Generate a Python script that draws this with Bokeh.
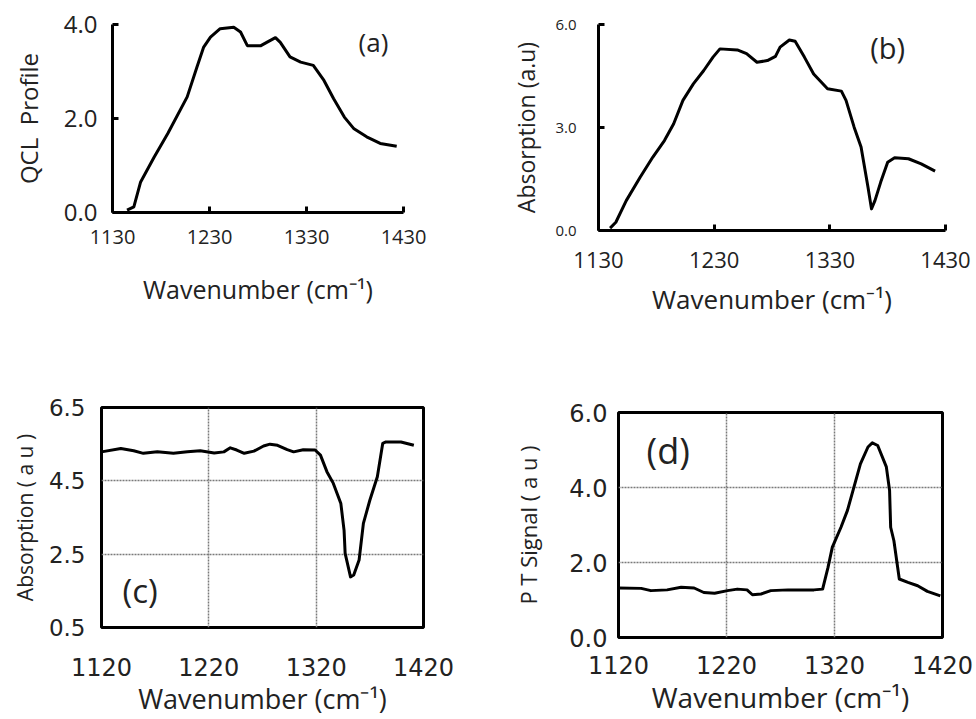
from bokeh.plotting import figure
from bokeh.layouts import column, row
from bokeh.models import Range1d, FixedTicker, PrintfTickFormatter, Label
from bokeh.embed import file_html
from bokeh.resources import INLINE

# ---------------- data ----------------
# (a) QCL profile
qcl_wn = [1145, 1152, 1159, 1173, 1187, 1207, 1217, 1224, 1231, 1241, 1255, 1262, 1269,
          1283, 1289, 1298, 1303, 1313, 1324, 1337, 1348, 1358, 1369, 1379, 1392, 1406, 1423]
qcl_val = [0.05, 0.12, 0.65, 1.18, 1.68, 2.46, 3.09, 3.52, 3.73, 3.91, 3.94, 3.84, 3.55,
           3.55, 3.62, 3.72, 3.62, 3.31, 3.20, 3.13, 2.81, 2.42, 2.03, 1.78, 1.61, 1.47, 1.41]

# (b) absorption
abs_b_wn = [1140, 1145, 1154, 1166, 1177, 1187, 1195, 1203, 1212, 1221, 1229, 1235, 1250,
            1258, 1267, 1276, 1283, 1287, 1295, 1300, 1308, 1316, 1328, 1340, 1344, 1351,
            1357, 1363, 1366, 1369, 1374, 1380, 1386, 1398, 1409, 1421]
abs_b_val = [0.07, 0.24, 0.87, 1.55, 2.14, 2.62, 3.11, 3.79, 4.27, 4.66, 5.05, 5.29, 5.26,
             5.15, 4.90, 4.95, 5.07, 5.34, 5.55, 5.51, 5.05, 4.56, 4.13, 4.06, 3.79, 3.01,
             2.43, 1.26, 0.63, 0.87, 1.41, 1.99, 2.12, 2.09, 1.94, 1.73]

# (c) absorption
abs_c_wn = [1120, 1138, 1150, 1159, 1172, 1187, 1200, 1212, 1225, 1234, 1240, 1246, 1253,
            1262, 1271, 1277, 1284, 1293, 1299, 1308, 1319, 1324, 1330, 1336, 1343, 1346,
            1347, 1352, 1355, 1360, 1364, 1370, 1377, 1382, 1385, 1399, 1411]
abs_c_val = [5.29, 5.38, 5.32, 5.25, 5.29, 5.25, 5.29, 5.32, 5.26, 5.29, 5.40, 5.34, 5.25,
             5.31, 5.45, 5.50, 5.47, 5.35, 5.29, 5.35, 5.34, 5.20, 4.75, 4.43, 3.88, 3.15,
             2.52, 1.88, 1.93, 2.34, 3.34, 3.97, 4.61, 5.52, 5.56, 5.56, 5.47]

# (d) photothermal signal
pt_wn = [1120, 1141, 1150, 1165, 1178, 1190, 1199, 1209, 1221, 1230, 1239, 1244, 1252,
         1261, 1277, 1301, 1309, 1314, 1318, 1326, 1332, 1338, 1344, 1351, 1355, 1360,
         1368, 1371, 1372, 1375, 1380, 1388, 1397, 1406, 1418]
pt_val = [1.32, 1.31, 1.25, 1.27, 1.34, 1.32, 1.20, 1.18, 1.25, 1.29, 1.27, 1.14, 1.16,
          1.25, 1.27, 1.27, 1.29, 1.87, 2.41, 2.94, 3.39, 4.01, 4.63, 5.08, 5.19, 5.12,
          4.55, 3.92, 2.94, 2.58, 1.56, 1.47, 1.38, 1.23, 1.11]

x_ticks_ab = [1130, 1230, 1330, 1430]
x_ticks_cd = [1120, 1220, 1320, 1420]
y_ticks_a = [0, 2, 4]
y_ticks_b = [0, 3, 6]
y_ticks_c = [0.5, 2.5, 4.5, 6.5]
y_ticks_d = [0, 2, 4, 6]

X_LABEL = "Wavenumber (cm\u207b\u00b9)"
TXT = "#222222"


def make_fig(xr, yr, w, h, bl, br, bt, bb):
    p = figure(width=w, height=h, x_range=Range1d(*xr), y_range=Range1d(*yr),
               output_backend="svg", toolbar_location=None,
               min_border_left=bl, min_border_right=br,
               min_border_top=bt, min_border_bottom=bb)
    p.frame_align = False
    p.background_fill_color = "white"
    p.border_fill_color = "white"
    for ax in (p.xaxis[0], p.yaxis[0]):
        ax.minor_tick_line_color = None
        ax.major_label_text_color = TXT
        ax.axis_label_text_color = TXT
        ax.axis_label_text_font_style = "normal"
        ax.axis_label_text_font = "Open Sans"
        ax.major_label_text_font = "Open Sans"
    return p


def simple_axes(p):
    p.xgrid.visible = False
    p.ygrid.visible = False
    p.outline_line_color = None
    for ax in (p.xaxis[0], p.yaxis[0]):
        ax.axis_line_width = 3
        ax.axis_line_color = "black"
        ax.major_tick_in = 6
        ax.major_tick_out = 0
        ax.major_tick_line_width = 3
        ax.major_tick_line_color = "black"


def boxed_axes(p):
    p.outline_line_color = "black"
    p.outline_line_width = 3
    p.outline_line_alpha = 1.0
    for ax in (p.xaxis[0], p.yaxis[0]):
        ax.axis_line_color = None
        ax.major_tick_line_color = None
        ax.major_tick_in = 0
        ax.major_tick_out = 0
        ax.major_label_text_font = "DejaVu Sans"
    for g in (p.xgrid[0], p.ygrid[0]):
        g.grid_line_color = "#7a7a7a"
        g.grid_line_width = 1.5
        g.grid_line_dash = "2 1"


# ---------------- (a) ----------------
pa = make_fig((1130, 1430), (0, 4), 480, 380, 112, 77, 24, 168)
simple_axes(pa)
pa.xaxis.ticker = FixedTicker(ticks=x_ticks_ab)
pa.yaxis.ticker = FixedTicker(ticks=y_ticks_a)
pa.yaxis.formatter = PrintfTickFormatter(format="%.1f")
pa.xaxis.major_label_text_font_size = "20px"
pa.yaxis.major_label_text_font_size = "24px"
pa.xaxis.major_label_standoff = 17
pa.yaxis.major_label_standoff = 15
pa.xaxis.axis_label = X_LABEL
pa.yaxis.axis_label = "QCL\u00a0 Profile"
pa.xaxis.axis_label_text_font_size = "25px"
pa.yaxis.axis_label_text_font_size = "24px"
pa.xaxis.axis_label_standoff = 25
pa.yaxis.axis_label_standoff = 16
pa.line(qcl_wn, qcl_val, line_color="black", line_width=3, line_join="round")
pa.add_layout(Label(x=1399, y=3.62, text="(a)", text_align="center", text_baseline="middle",
                    text_font="Open Sans", text_font_size="26px", text_color=TXT))

# ---------------- (b) ----------------
pb = make_fig((1130, 1430), (0, 6), 496, 380, 118, 31, 24, 150)
simple_axes(pb)
pb.xaxis.ticker = FixedTicker(ticks=x_ticks_ab)
pb.yaxis.ticker = FixedTicker(ticks=y_ticks_b)
pb.yaxis.formatter = PrintfTickFormatter(format="%.1f")
pb.xaxis.major_label_text_font_size = "22px"
pb.yaxis.major_label_text_font_size = "15px"
pb.xaxis.major_label_standoff = 21
pb.yaxis.major_label_standoff = 22
pb.xaxis.axis_label = X_LABEL
pb.yaxis.axis_label = "Absorption (a.u)"
pb.xaxis.axis_label_text_font_size = "26px"
pb.yaxis.axis_label_text_font_size = "23px"
pb.xaxis.axis_label_standoff = 10
pb.yaxis.axis_label_standoff = 10
pb.line(abs_b_wn, abs_b_val, line_color="black", line_width=3, line_join="round")
pb.add_layout(Label(x=1380, y=5.33, text="(b)", text_align="center", text_baseline="middle",
                    text_font="Open Sans", text_font_size="29px", text_color=TXT))

# ---------------- (c) ----------------
pc = make_fig((1120, 1420), (0.5, 6.5), 480, 339, 101, 57, 27, 92)
boxed_axes(pc)
pc.xaxis.ticker = FixedTicker(ticks=x_ticks_cd)
pc.yaxis.ticker = FixedTicker(ticks=y_ticks_c)
pc.yaxis.formatter = PrintfTickFormatter(format="%.1f")
pc.xaxis.major_label_text_font_size = "24px"
pc.yaxis.major_label_text_font_size = "23px"
pc.xaxis.major_label_standoff = 30
pc.yaxis.major_label_standoff = 16
pc.xaxis.axis_label = X_LABEL
pc.yaxis.axis_label = "Absorption ( a u )"
pc.xaxis.axis_label_text_font_size = "27px"
pc.yaxis.axis_label_text_font_size = "21px"
pc.xaxis.axis_label_standoff = 1
pc.yaxis.axis_label_standoff = 7
pc.line(abs_c_wn, abs_c_val, line_color="black", line_width=3, line_join="round")
pc.add_layout(Label(x=1156, y=1.51, text="(c)", text_align="center", text_baseline="middle",
                    text_font="Open Sans", text_font_size="33px", text_color=TXT))

# ---------------- (d) ----------------
pd_ = make_fig((1120, 1420), (0, 6), 496, 339, 138, 34, 32, 82)
boxed_axes(pd_)
pd_.xaxis.ticker = FixedTicker(ticks=x_ticks_cd)
pd_.yaxis.ticker = FixedTicker(ticks=y_ticks_d)
pd_.yaxis.formatter = PrintfTickFormatter(format="%.1f")
pd_.xaxis.major_label_text_font_size = "24px"
pd_.yaxis.major_label_text_font_size = "24px"
pd_.xaxis.major_label_standoff = 18
pd_.yaxis.major_label_standoff = 11
pd_.xaxis.axis_label = X_LABEL
pd_.yaxis.axis_label = "P T Signal ( a u )"
pd_.xaxis.axis_label_text_font_size = "28px"
pd_.yaxis.axis_label_text_font_size = "22px"
pd_.xaxis.axis_label_standoff = 1
pd_.yaxis.axis_label_standoff = 23
pd_.line(pt_wn, pt_val, line_color="black", line_width=3, line_join="round")
pd_.add_layout(Label(x=1166, y=4.99, text="(d)", text_align="center", text_baseline="middle",
                     text_font="Open Sans", text_font_size="36px", text_color=TXT))

layout = column(row(pa, pb), row(pc, pd_))

with open("out.html", "w") as f:
    f.write(file_html(layout, INLINE))
